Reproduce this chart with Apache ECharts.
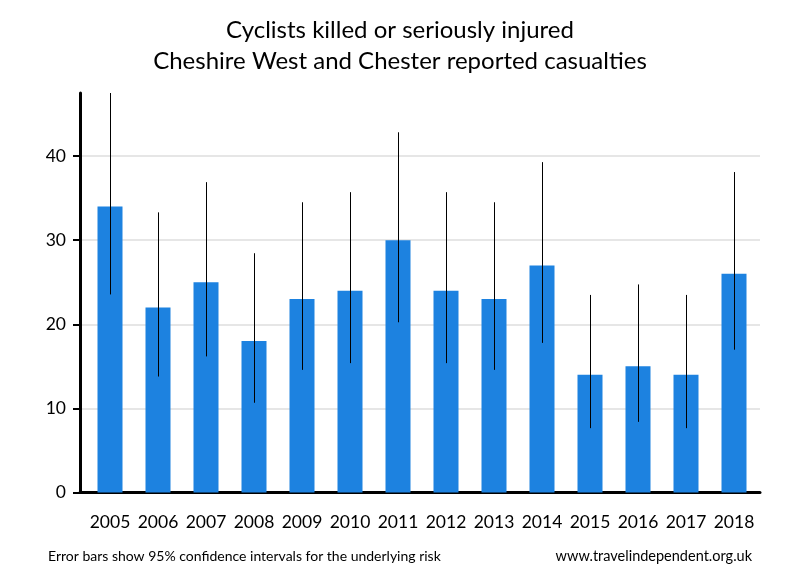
<!DOCTYPE html>
<html><head><meta charset="utf-8">
<script src="https://cdn.jsdelivr.net/npm/echarts@6/dist/echarts.min.js"></script>
<style>html,body{margin:0;padding:0;background:#fff}#c{width:800px;height:580px}</style>
</head><body><div id="c"></div>
<script>
const years = ['2005','2006','2007','2008','2009','2010','2011','2012','2013','2014','2015','2016','2017','2018'];
const casualties = [34,22,25,18,23,24,30,24,23,27,14,15,14,26];
const lowerCI = [23.55,13.79,16.18,10.67,14.58,15.38,20.24,15.38,14.58,17.79,7.65,8.40,7.65,16.98];
const upperCI = [47.51,33.31,36.90,28.45,34.51,35.71,42.83,35.71,34.51,39.28,23.49,24.74,23.49,38.10];
const yTicks = [0,10,20,30,40];

const FONT = 'Lato';
const YMAX = 47.5;
const chart = echarts.init(document.getElementById('c'), null, {renderer:'canvas'});
chart.setOption({
  animation:false,
  backgroundColor:'#fff',
  title:[
    {text:'Cyclists killed or seriously injured\nCheshire West and Chester reported casualties',
     left:'center', top:10,
     textStyle:{fontFamily:FONT, fontSize:24, fontWeight:'normal', color:'#000', lineHeight:31}},
    {text:'Error bars show 95% confidence intervals for the underlying risk', left:43, top:544,
     textStyle:{fontFamily:FONT, fontSize:14, fontWeight:'normal', color:'#000'}},
    {text:'www.travelindependent.org.uk', right:43, top:544,
     textStyle:{fontFamily:FONT, fontSize:14.5, fontWeight:'normal', color:'#000'}}
  ],
  grid:[
    {left:86, right:42, top:93, bottom:87.5},
    {left:80, right:40, top:93, bottom:87.5}
  ],
  xAxis:[
    {type:'category', gridIndex:0, data:years, boundaryGap:true,
     axisLine:{show:false}, axisTick:{show:false},
     axisLabel:{interval:0, fontFamily:FONT, fontSize:17.5, color:'#000', margin:21}},
    {type:'value', gridIndex:1, min:0, max:1,
     axisLine:{show:true, lineStyle:{color:'#000', width:3}}, axisTick:{show:false},
     axisLabel:{show:false}, splitLine:{show:false}}
  ],
  yAxis:[
    {type:'value', gridIndex:0, min:0, max:YMAX, interval:10, show:false, splitLine:{show:false}},
    {type:'value', gridIndex:1, min:0, max:YMAX, interval:10,
     axisLine:{show:true, lineStyle:{color:'#000', width:3}},
     axisTick:{show:true, length:7, customValues:yTicks, lineStyle:{color:'#000', width:2}},
     axisLabel:{fontFamily:FONT, fontSize:17.5, color:'#000', margin:14, customValues:yTicks},
     splitLine:{show:true, lineStyle:{color:['#e6e6e6','#e6e6e6','#e6e6e6','#e6e6e6','#e6e6e6','rgba(0,0,0,0)'], width:2}}}
  ],
  series:[
    {type:'bar', xAxisIndex:0, yAxisIndex:0, data:casualties, barWidth:25,
     itemStyle:{color:'#1d82e0'}},
    {type:'custom', xAxisIndex:0, yAxisIndex:0, clip:true,
     data:years.map(function(y,i){return [i, lowerCI[i], upperCI[i]];}),
     renderItem:function(params, api){
       const lo = api.coord([api.value(0), api.value(1)]);
       const hi = api.coord([api.value(0), api.value(2)]);
       return {type:'line', shape:{x1:Math.round(lo[0])+0.5, y1:lo[1], x2:Math.round(hi[0])+0.5, y2:hi[1]},
               style:{stroke:'#000', lineWidth:1}};
     }, z:3}
  ]
});
</script></body></html>
